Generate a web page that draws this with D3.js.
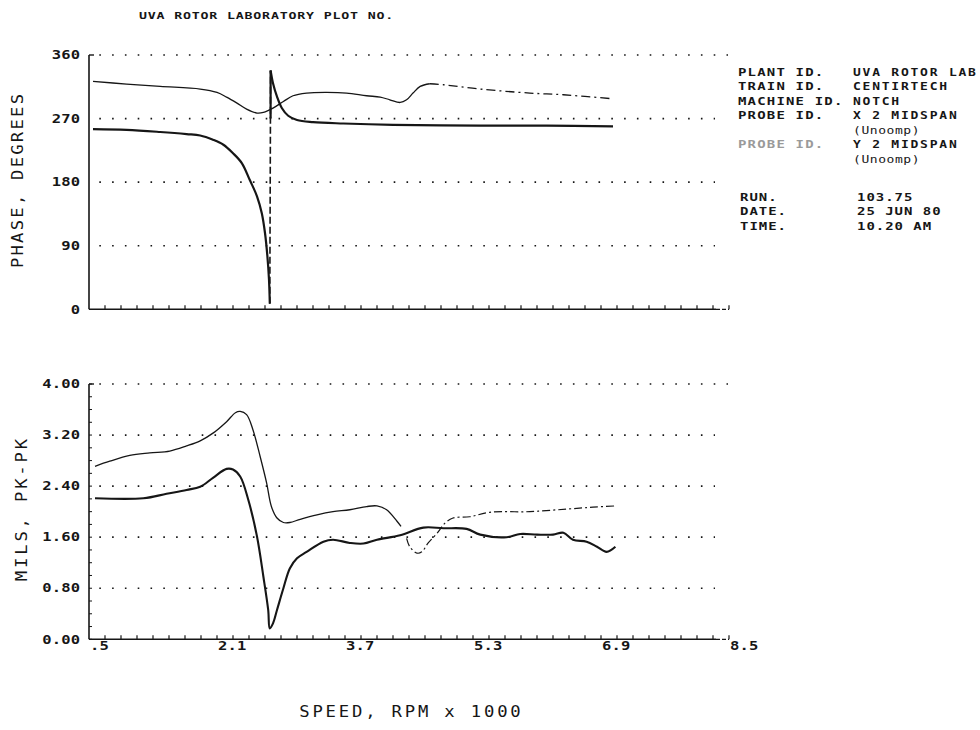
<!DOCTYPE html>
<html>
<head>
<meta charset="utf-8">
<script src="https://cdn.jsdelivr.net/npm/d3@7"></script>
<style>
  body { margin: 0; background: #fff; }
  svg { display: block; }
</style>
</head>
<body>
<svg id="chart" width="980" height="730"></svg>
<script>
// Données (vitesse en milliers de tr/min)

const speedTicks = [0.5, 2.1, 3.7, 5.3, 6.9, 8.5];
const speedTickLabels = [".5", "2.1", "3.7", "5.3", "6.9", "8.5"];
const phaseTicks = [0, 90, 180, 270, 360];
const phaseTickLabels = ["0", "90", "180", "270", "360"];
const ampTicks = [0, 0.8, 1.6, 2.4, 3.2, 4.0];
const ampTickLabels = ["0.00", "0.80", "1.60", "2.40", "3.20", "4.00"];

// Phase, sonde X (trait épais)
const phaseXSpeed = [0.55, 0.97, 1.39, 1.72, 1.89, 2.05, 2.18, 2.30, 2.41, 2.51, 2.60, 2.66, 2.70, 2.73, 2.75, 2.76,
  2.77, 2.80, 2.85, 2.91, 2.99, 3.10, 3.30, 3.68, 4.30, 5.39, 6.22, 7.05];
const phaseXDeg = [255, 254, 251, 248, 246, 240, 233, 221, 207, 183, 160, 136, 108, 75, 42, 8,
  338, 320, 301, 285, 274, 268, 265, 263, 261, 260, 260, 259];

// Phase, sonde Y (trait fin)
const phaseYSpeed = [0.55, 0.97, 1.39, 1.89, 2.10, 2.22, 2.35, 2.47, 2.60, 2.68, 2.80, 2.93, 3.05, 3.22, 3.47, 3.72,
  3.97, 4.14, 4.26, 4.39, 4.47, 4.55, 4.64, 4.76, 4.93, 5.39, 6.01, 6.43, 7.05];
const phaseYDeg = [322.6, 318.9, 315.5, 311.8, 307, 300.4, 291.9, 283.4, 277.8, 278.7, 284.8, 294.2, 302.3, 306.1, 307, 306.1,
  302.3, 300.4, 296.6, 292.8, 296.6, 306.1, 315.5, 319.3, 317.9, 311.8, 306.1, 303.7, 298];

// Amplitude, sonde Y (trait fin, courbe haute)
const ampYSpeed = [0.575, 0.76, 1.01, 1.26, 1.51, 1.72, 1.89, 2.05, 2.22, 2.33, 2.39, 2.47, 2.55, 2.64, 2.72, 2.78,
  2.85, 2.93, 3.01, 3.14, 3.35, 3.55, 3.76, 3.97, 4.10, 4.22, 4.35, 4.40,
  4.47, 4.51, 4.60, 4.66, 4.74, 4.85, 4.95, 5.05, 5.26, 5.51, 6.01, 6.47, 6.80, 7.08];
const ampYMils = [2.71, 2.79, 2.88, 2.92, 2.95, 3.03, 3.11, 3.23, 3.41, 3.55, 3.57, 3.52, 3.28, 2.86, 2.45, 2.08,
  1.90, 1.83, 1.83, 1.88, 1.95, 2.00, 2.03, 2.08, 2.09, 2.03, 1.85, 1.77,
  1.58, 1.45, 1.35, 1.37, 1.51, 1.66, 1.82, 1.90, 1.92, 1.99, 2.00, 2.04, 2.07, 2.09];

// Amplitude, sonde X (trait épais, courbe basse)
const ampXSpeed = [0.575, 1.18, 1.47, 1.72, 1.89, 2.05, 2.22, 2.30, 2.39, 2.49, 2.60, 2.68, 2.74, 2.76, 2.80, 2.85,
  2.93, 3.01, 3.10, 3.22, 3.43, 3.55, 3.76, 3.93, 4.10, 4.39, 4.68, 4.93, 5.22, 5.39, 5.72, 5.89,
  6.10, 6.30, 6.43, 6.55, 6.72, 6.85, 6.97, 7.08];
const ampXMils = [2.21, 2.21, 2.28, 2.34, 2.39, 2.53, 2.67, 2.66, 2.55, 2.19, 1.61, 0.98, 0.46, 0.17, 0.25, 0.46,
  0.80, 1.11, 1.27, 1.37, 1.53, 1.56, 1.51, 1.50, 1.56, 1.63, 1.75, 1.74, 1.73, 1.64, 1.60, 1.65,
  1.64, 1.64, 1.67, 1.56, 1.53, 1.45, 1.37, 1.45];

const infoLabels = ["PLANT ID.", "TRAIN ID.", "MACHINE ID.", "PROBE ID.", "", "PROBE ID.", ""];
const infoValues = ["UVA ROTOR LAB", "CENTIRTECH", "NOTCH", "X 2 MIDSPAN", "(Unoomp)", "Y 2 MIDSPAN", "(Unoomp)"];
const runLabels = ["RUN.", "DATE.", "TIME."];
const runValues = ["103.75", "25 JUN 80", "10.20 AM"];

// Mise en page

const ink = "#161616";
const svg = d3.select("#chart");

const x = d3.scaleLinear().domain([0.5, 8.5]).range([89, 729]);
const yPhase = d3.scaleLinear().domain([0, 360]).range([309.3, 55]);
const yAmp = d3.scaleLinear().domain([0, 4]).range([639.3, 384]);

// Texte "traceur" : police mono élargie avec un pas fixe par caractère
function plotText(g, str, px, py, o) {
  const sx = o.sx || 1;
  const ls = o.pitch / sx - 0.602 * o.size;
  const w = str.length * o.pitch - ls * sx;
  let x0 = 0;
  if (o.anchor === "end") x0 = -w;
  if (o.anchor === "middle") x0 = -w / 2;
  const grp = g.append("g")
    .attr("transform", "translate(" + px + "," + py + ")" + (o.rotate ? " rotate(" + o.rotate + ")" : ""));
  grp.append("text")
    .attr("transform", "translate(" + x0 + "," + (o.dy || 0) + ") scale(" + sx + ",1)")
    .style("font-family", "'DejaVu Sans Mono', monospace")
    .style("font-size", o.size + "px")
    .style("font-weight", o.weight || "bold")
    .style("letter-spacing", ls + "px")
    .style("fill", o.fill || ink)
    .text(str);
}

// Titre
plotText(svg, "UVA ROTOR LABORATORY  PLOT NO.", 139, 19, { size: 9.5, pitch: 8.8, sx: 1.4 });

function drawPanel(y, ticks, tickLabels, showXLabels, minorStep) {
  const g = svg.append("g");
  const [y0, y1] = y.range();

  // Lignes de grille pointillées
  ticks.forEach((t, i) => {
    if (i === 0) return;
    const isTop = i === ticks.length - 1;
    g.append("line")
      .attr("x1", x(0.5)).attr("x2", isTop ? 728 : 715)
      .attr("y1", y(t)).attr("y2", y(t))
      .attr("stroke", ink)
      .attr("stroke-width", 1.7)
      .attr("stroke-dasharray", "1.6,11.2")
      .attr("stroke-dashoffset", 2.5);
  });

  // Axe vertical
  g.append("line")
    .attr("x1", x(0.5)).attr("x2", x(0.5))
    .attr("y1", y0).attr("y2", y1)
    .attr("stroke", ink).attr("stroke-width", 1.6);
  g.append("line")
    .attr("x1", x(0.5)).attr("x2", x(0.5) + 5)
    .attr("y1", y1).attr("y2", y1)
    .attr("stroke", ink).attr("stroke-width", 1.4);

  if (minorStep) {
    d3.range(ticks[0], ticks[ticks.length - 1] + 1e-6, minorStep).forEach((t) => {
      g.append("line")
        .attr("x1", x(0.5)).attr("x2", x(0.5) + 3)
        .attr("y1", y(t)).attr("y2", y(t))
        .attr("stroke", ink).attr("stroke-width", 1);
    });
  }

  // Axe horizontal
  g.append("line")
    .attr("x1", x(0.5)).attr("x2", 716)
    .attr("y1", y0).attr("y2", y0)
    .attr("stroke", ink).attr("stroke-width", 1.5);
  g.append("line")
    .attr("x1", 716).attr("x2", 729)
    .attr("y1", y0).attr("y2", y0)
    .attr("stroke", ink).attr("stroke-width", 1.3)
    .attr("stroke-dasharray", "4,2");

  d3.range(0.7, 8.5 + 1e-6, 0.2).forEach((s) => {
    g.append("line")
      .attr("x1", x(s)).attr("x2", x(s))
      .attr("y1", y0).attr("y2", y0 - 4)
      .attr("stroke", ink).attr("stroke-width", 1.2);
  });

  // Étiquettes de l'axe vertical
  ticks.forEach((t, i) => {
    plotText(g, tickLabels[i], 80, y(t) + 4.2, { size: 11.5, pitch: 9.5, sx: 1.35, anchor: "end" });
  });

  if (showXLabels) {
    speedTicks.forEach((s, i) => {
      plotText(g, speedTickLabels[i], x(s) + 1, y0 + 11, { size: 11.5, pitch: 9.5, sx: 1.35 });
    });
  }
  return g;
}

const gTop = drawPanel(yPhase, phaseTicks, phaseTickLabels, false, 0);
const gBot = drawPanel(yAmp, ampTicks, ampTickLabels, true, 0.2);

// Titres d'axes
plotText(svg, "PHASE, DEGREES", 18, 181, { size: 15, pitch: 12.6, weight: "normal", anchor: "middle", rotate: -90, dy: 5.4, sx: 1.15 });
plotText(svg, "MILS, PK-PK", 22, 510, { size: 15, pitch: 13.2, weight: "normal", anchor: "middle", rotate: -90, dy: 5.4, sx: 1.15 });
plotText(svg, "SPEED, RPM x 1000", 410, 717, { size: 15, pitch: 13.2, weight: "normal", anchor: "middle", sx: 1.15 });

// Courbes

function zipPts(xs, ys) {
  return xs.map((s, i) => [s, ys[i]]);
}

function drawCurve(g, pts, y, width, dash) {
  const line = d3.line()
    .x((d) => x(d[0]))
    .y((d) => y(d[1]))
    .curve(d3.curveCatmullRom.alpha(0.5));
  g.append("path")
    .datum(pts)
    .attr("d", line)
    .attr("fill", "none")
    .attr("stroke", ink)
    .attr("stroke-width", width)
    .attr("stroke-linejoin", "round")
    .attr("stroke-dasharray", dash || null);
}

// Phase X : découpe au passage 0 -> 360
const phX = zipPts(phaseXSpeed, phaseXDeg);
const wrapAt = phX.findIndex((d, i) => i > 0 && Math.abs(d[1] - phX[i - 1][1]) > 180);
drawCurve(gTop, phX.slice(0, wrapAt), yPhase, 2.2);
drawCurve(gTop, phX.slice(wrapAt), yPhase, 2.2);
gTop.append("line")
  .attr("x1", x(phX[wrapAt - 1][0])).attr("x2", x(phX[wrapAt][0]))
  .attr("y1", yPhase(phX[wrapAt - 1][1])).attr("y2", yPhase(phX[wrapAt][1]))
  .attr("stroke", ink).attr("stroke-width", 1.6)
  .attr("stroke-dasharray", "7,3");
gTop.append("line")
  .attr("x1", x(phX[wrapAt][0])).attr("x2", x(phX[wrapAt][0]))
  .attr("y1", yPhase(phX[wrapAt][1])).attr("y2", yPhase(270))
  .attr("stroke", ink).attr("stroke-width", 2.2);

// Phase Y : continu puis tireté
const phY = zipPts(phaseYSpeed, phaseYDeg);
drawCurve(gTop, phY.filter((d) => d[0] <= 4.76), yPhase, 1.3);
drawCurve(gTop, phY.filter((d) => d[0] >= 4.76), yPhase, 1.3, "9,4,2,4");

// Amplitudes
const amY = zipPts(ampYSpeed, ampYMils);
drawCurve(gBot, amY.filter((d) => d[0] < 4.45), yAmp, 1.3);
drawCurve(gBot, amY.filter((d) => d[0] > 4.45), yAmp, 1.2, "8,3,2,3");
drawCurve(gBot, zipPts(ampXSpeed, ampXMils), yAmp, 2.1);

// Bloc d'informations
infoLabels.forEach((t, i) => {
  const yy = 75.5 + i * 14.5;
  if (t) plotText(svg, t, 738, yy, { size: 10, pitch: 9.6, sx: 1.4, fill: i === 5 ? "#9a9a9a" : ink });
  const v = infoValues[i];
  const mixed = v.startsWith("(");
  plotText(svg, v, 853, yy + (mixed ? 0.5 : 0), { size: 10, pitch: mixed ? 8.4 : 9.6, sx: 1.3, weight: mixed ? "normal" : "bold" });
});
runLabels.forEach((t, i) => {
  const yy = 200.5 + i * 14.5;
  plotText(svg, t, 740, yy, { size: 10, pitch: 9.4, sx: 1.4 });
  plotText(svg, runValues[i], 857, yy, { size: 10, pitch: 9.4, sx: 1.4 });
});
</script>
</body>
</html>
